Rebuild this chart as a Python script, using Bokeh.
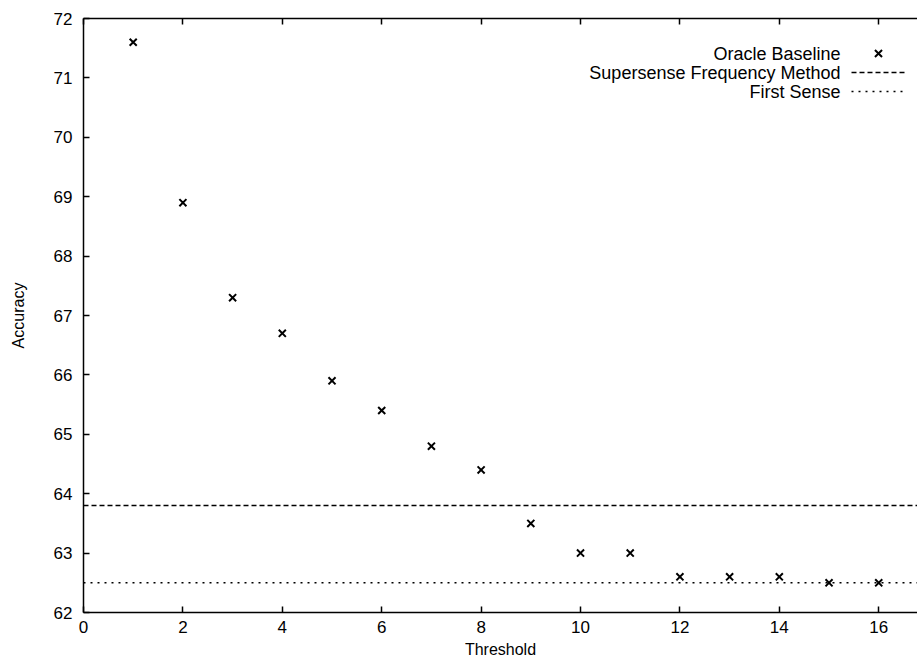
from bokeh.plotting import figure
from bokeh.models import Span, Label, LinearAxis, Range1d, FixedTicker
from bokeh.embed import file_html
from bokeh.resources import INLINE

# ---- data ----
thresholds = list(range(1, 17))
oracle_baseline = [71.6, 68.9, 67.3, 66.7, 65.9, 65.4, 64.8, 64.4,
                   63.5, 63.0, 63.0, 62.6, 62.6, 62.6, 62.5, 62.5]
supersense_freq = 63.8
first_sense = 62.5
x_ticks = [0, 2, 4, 6, 8, 10, 12, 14, 16]
y_ticks = [62, 63, 64, 65, 66, 67, 68, 69, 70, 71, 72]
legend_labels = ["Oracle Baseline", "Supersense Frequency Method", "First Sense"]

# ---- layout (page pixels) ----
W, H = 917, 665
ML, MT, MB, MR = 83, 18, 53, 0
X0, X1 = 0, 16.78
Y0, Y1 = 62, 72
FONT = "Liberation Sans"
TICK_FS = "17px"
LABEL_FS = "16px"
LEG_FS = "18px"

p = figure(width=W, height=H, x_range=Range1d(X0, X1), y_range=Range1d(Y0, Y1),
           output_backend="svg", toolbar_location=None,
           min_border_left=ML, min_border_top=MT, min_border_bottom=MB,
           min_border_right=MR, x_axis_label="Threshold", y_axis_label="Accuracy")
p.outline_line_color = None
p.xgrid.visible = False
p.ygrid.visible = False
p.background_fill_color = "white"
p.border_fill_color = "white"

for ax in (p.xaxis[0], p.yaxis[0]):
    ax.major_tick_in = 6
    ax.major_tick_out = 0
    ax.minor_tick_line_color = None
    ax.axis_line_width = 1.5
    ax.major_tick_line_width = 1.5
    ax.axis_line_color = "black"
    ax.major_tick_line_color = "black"
    ax.major_label_text_font = FONT
    ax.major_label_text_font_size = TICK_FS
    ax.major_label_text_color = "black"
    ax.axis_label_text_font = FONT
    ax.axis_label_text_font_size = LABEL_FS
    ax.axis_label_text_font_style = "normal"
    ax.axis_label_text_color = "black"

p.xaxis[0].ticker = FixedTicker(ticks=x_ticks)
p.yaxis[0].ticker = FixedTicker(ticks=y_ticks)
p.xaxis[0].major_label_standoff = 8
p.xaxis[0].axis_label_standoff = 5
p.yaxis[0].major_label_standoff = 11
p.yaxis[0].axis_label_standoff = 24

top = LinearAxis(ticker=FixedTicker(ticks=x_ticks), major_tick_in=6, major_tick_out=0,
                 minor_tick_line_color=None,
                 major_label_overrides={t: "" for t in x_ticks},
                 major_label_standoff=0, axis_line_width=1.5, major_tick_line_width=1.5,
                 axis_line_color="black", major_tick_line_color="black")
p.add_layout(top, "above")

# reference lines
p.add_layout(Span(location=supersense_freq, dimension="width", line_color="black",
                  line_width=1.5, line_dash="5 3"))
p.add_layout(Span(location=first_sense, dimension="width", line_color="black",
                  line_width=1.5, line_dash="2 5"))

# oracle points
p.scatter(thresholds, oracle_baseline, marker="x", size=10, line_color="black", line_width=2)

# ---- manual legend (gnuplot-style, key on the right) ----
fw = W - ML - MR
fh = H - MT - MB
def sx(px):
    return X0 + (px - ML) / fw * (X1 - X0)
def sy(py):
    return Y1 - (py - MT) / fh * (Y1 - Y0)

text_right = 840   # page px
rows = [53, 72, 91]
for lab, r in zip(legend_labels, rows):
    p.add_layout(Label(x=text_right - ML, y=(H - MB) - r, x_units="screen", y_units="screen",
                       text=lab, text_align="right", text_baseline="middle",
                       text_font=FONT, text_font_size=LEG_FS, text_color="black"))
p.scatter([sx(878)], [sy(rows[0])], marker="x", size=10, line_color="black", line_width=2)
p.segment(x0=[sx(851)], y0=[sy(rows[1])], x1=[sx(905)], y1=[sy(rows[1])],
          line_color="black", line_width=1.5, line_dash="5 3")
p.segment(x0=[sx(851)], y0=[sy(rows[2])], x1=[sx(903)], y1=[sy(rows[2])],
          line_color="black", line_width=1.5, line_dash="2 5")

open("out.html", "w").write(file_html(p, INLINE))
